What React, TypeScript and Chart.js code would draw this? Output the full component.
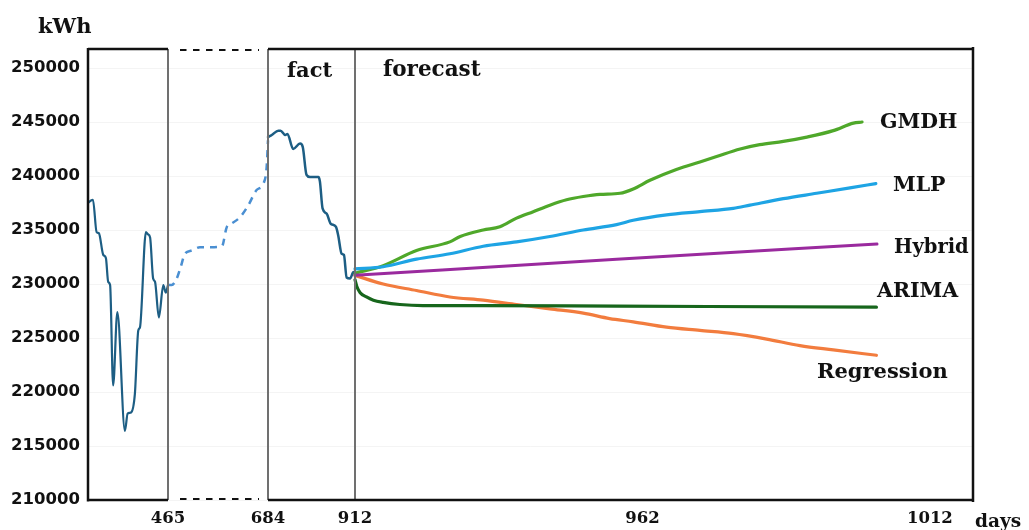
import React, { useEffect, useRef } from "react";
import { Chart, registerables, LinearScale } from "chart.js";

// ---------- data (days, kWh) ----------
const LEFT_DAYS = [255, 261.6, 268, 277.6, 283.6, 295, 302, 308, 313, 321, 332, 352, 359, 368, 378, 387, 391.5, 407, 412.5, 418, 426, 431, 441, 452.7, 459, 465];
const LEFT_KWH = [237500, 237700, 237800, 234800, 234700, 232700, 232400, 230200, 229900, 220600, 227400, 216400, 218000, 218100, 219800, 225700, 226000, 234800, 234600, 234300, 230500, 230200, 226900, 229900, 229200, 229900];

const GAP_DAYS = [465, 473, 484, 493, 502, 517, 535, 557, 583, 594, 604, 623, 641, 659, 674, 681, 684];
const GAP_KWH = [229900, 229900, 230500, 231600, 232800, 233100, 233400, 233400, 233500, 235300, 235600, 236200, 237300, 238700, 239300, 240800, 243300];

const FACT_DAYS = [684, 694, 711, 717, 729, 735, 750, 768, 775, 785, 794, 816, 820, 827, 838, 848, 862, 868, 877, 883, 890, 899, 908, 912];
const FACT_KWH = [243600, 243800, 244200, 244200, 243800, 243900, 242500, 243000, 242700, 240100, 239900, 239900, 239500, 237000, 236500, 235600, 235300, 234500, 232800, 232700, 230600, 230500, 231100, 230900];

const GMDH_DAYS = [912, 916.9, 922.7, 928.5, 930.3, 934.3, 937.2, 940.1, 943.0, 945.9, 948.8, 951.7, 954.6, 958.1, 960.4, 963.3, 967.9, 972.0, 974.9, 979.0, 982.4, 986.5, 990.6, 995.2, 998.7, 1000.2];
const GMDH_KWH = [231000, 231700, 233100, 233900, 234400, 235000, 235300, 236100, 236700, 237300, 237800, 238100, 238300, 238400, 238800, 239600, 240600, 241300, 241800, 242500, 242900, 243200, 243600, 244200, 244900, 245000];

const MLP_DAYS = [912, 916.9, 922.7, 928.5, 934.3, 940.1, 945.9, 951.7, 957.5, 960.4, 966.2, 972.0, 977.8, 980.7, 986.5, 992.3, 998.1, 1002.6];
const MLP_KWH = [231400, 231600, 232300, 232800, 233500, 233900, 234400, 235000, 235500, 235900, 236400, 236700, 237000, 237300, 237900, 238400, 238900, 239300];

const HYBRID_DAYS = [912, 957.5, 1002.8];
const HYBRID_KWH = [230800, 232300, 233700];

const ARIMA_DAYS = [912, 912.3, 912.9, 914.0, 915.2, 916.9, 919.8, 923.8, 934.3, 957.5, 1002.7];
const ARIMA_KWH = [230400, 229800, 229200, 228800, 228500, 228300, 228100, 228000, 228000, 227950, 227850];

const REG_DAYS = [912, 916.9, 922.7, 928.5, 934.3, 940.1, 945.9, 951.7, 956.3, 960.4, 966.2, 972.0, 977.8, 983.6, 989.4, 995.2, 1002.7];
const REG_KWH = [230800, 230000, 229400, 228800, 228500, 228100, 227700, 227300, 226800, 226500, 226000, 225700, 225400, 224900, 224300, 223900, 223400];

const X_TICKS = [465, 684, 912, 962, 1012];
const X_TICK_LABELS = ["465", "684", "912", "962", "1012"];
const Y_TICKS = [210000, 215000, 220000, 225000, 230000, 235000, 240000, 245000, 250000];
const SERIES_NAMES = ["GMDH", "MLP", "Hybrid", "ARIMA", "Regression"];

// ---------- broken (piecewise) day axis ----------
const SEG_DAYS = [255, 465, 684, 912, 1019.5];
const SEG_FRAC = [0, 80 / 885, 180 / 885, 267 / 885, 1];

function warp(d: number): number {
  for (let i = 0; i < SEG_DAYS.length - 1; i++) {
    if (d <= SEG_DAYS[i + 1] || i === SEG_DAYS.length - 2) {
      const t = (d - SEG_DAYS[i]) / (SEG_DAYS[i + 1] - SEG_DAYS[i]);
      return SEG_FRAC[i] + t * (SEG_FRAC[i + 1] - SEG_FRAC[i]);
    }
  }
  return 0;
}
function unwarp(f: number): number {
  for (let i = 0; i < SEG_FRAC.length - 1; i++) {
    if (f <= SEG_FRAC[i + 1] || i === SEG_FRAC.length - 2) {
      const t = (f - SEG_FRAC[i]) / (SEG_FRAC[i + 1] - SEG_FRAC[i]);
      return SEG_DAYS[i] + t * (SEG_DAYS[i + 1] - SEG_DAYS[i]);
    }
  }
  return 0;
}

class BrokenDayScale extends (LinearScale as any) {
  static id = "brokenDays";
  static defaults = {};
  getPixelForValue(v: number) {
    return v === null || v === undefined ? NaN : (this as any).getPixelForDecimal(warp(v));
  }
  getValueForPixel(p: number) {
    return unwarp((this as any).getDecimalForPixel(p));
  }
}

Chart.register(...registerables, BrokenDayScale as any);

const pts = (xs: number[], ys: number[]) => xs.map((x, i) => ({ x, y: ys[i] }));

const SERIF = '"DejaVu Serif", serif';

const framePlugin = {
  id: "frame",
  afterDraw(chart: any) {
    const { ctx, chartArea } = chart;
    const { left, right, top, bottom } = chartArea;
    const xs = chart.scales.x;
    const p465 = xs.getPixelForValue(465);
    const p684 = xs.getPixelForValue(684);
    const p912 = xs.getPixelForValue(912);
    ctx.save();
    // grey section separators
    ctx.strokeStyle = "#707070";
    ctx.lineWidth = 2;
    [p465, p684, p912].forEach((p: number) => {
      ctx.beginPath();
      ctx.moveTo(p, top);
      ctx.lineTo(p, bottom);
      ctx.stroke();
    });
    // black frame
    ctx.strokeStyle = "#111";
    ctx.lineWidth = 2.5;
    ctx.beginPath();
    ctx.moveTo(left, top - 1);
    ctx.lineTo(left, bottom + 1.5);
    ctx.moveTo(right, top - 2);
    ctx.lineTo(right, bottom + 2);
    ctx.moveTo(left, top);
    ctx.lineTo(p465, top);
    ctx.moveTo(p684, top);
    ctx.lineTo(right, top);
    ctx.moveTo(left, bottom);
    ctx.lineTo(p465, bottom);
    ctx.moveTo(p684, bottom);
    ctx.lineTo(right, bottom);
    ctx.stroke();
    // dashed break marks
    ctx.lineWidth = 2;
    ctx.setLineDash([6.5, 6.5]);
    ctx.beginPath();
    ctx.moveTo(p465 + 12, top + 1);
    ctx.lineTo(p684 - 9, top + 1);
    ctx.moveTo(p465 + 12, bottom - 1);
    ctx.lineTo(p684 - 9, bottom - 1);
    ctx.stroke();
    ctx.setLineDash([]);
    // texts
    ctx.fillStyle = "#111";
    ctx.textAlign = "left";
    ctx.textBaseline = "alphabetic";
    const labels: [string, number, number, number][] = [
      ["kWh", 38, 33, 21],
      ["fact", 287, 77, 21],
      ["forecast", 383, 76, 21.5],
      [SERIES_NAMES[0], 880, 128, 20.5],
      [SERIES_NAMES[1], 893, 191, 20.5],
      [SERIES_NAMES[2], 894, 253, 19.5],
      [SERIES_NAMES[3], 877, 297, 20.5],
      [SERIES_NAMES[4], 817, 378, 21],
      ["days", 975, 527, 18.5],
    ];
    labels.forEach(([t, x, y, s]) => {
      ctx.font = `bold ${s}px ${SERIF}`;
      ctx.fillText(t, x, y);
    });
    ctx.restore();
  },
};

export default function App() {
  const ref = useRef<HTMLCanvasElement>(null);
  useEffect(() => {
    if (!ref.current) return;
    const lineCommon = {
      pointRadius: 0,
      fill: false,
      cubicInterpolationMode: "monotone" as const,
      borderCapStyle: "round" as const,
      borderJoinStyle: "round" as const,
    };
    const chart = new Chart(ref.current, {
      type: "line",
      data: {
        datasets: [
          { ...lineCommon, label: SERIES_NAMES[2], data: pts(HYBRID_DAYS, HYBRID_KWH), borderColor: "#9a2a9e", borderWidth: 3 },
          { ...lineCommon, label: SERIES_NAMES[1], data: pts(MLP_DAYS, MLP_KWH), borderColor: "#1ea4e4", borderWidth: 3.2 },
          { ...lineCommon, label: SERIES_NAMES[0], data: pts(GMDH_DAYS, GMDH_KWH), borderColor: "#4fa82a", borderWidth: 3.2 },
          { ...lineCommon, label: SERIES_NAMES[3], data: pts(ARIMA_DAYS, ARIMA_KWH), borderColor: "#17661c", borderWidth: 3.2 },
          { ...lineCommon, label: SERIES_NAMES[4], data: pts(REG_DAYS, REG_KWH), borderColor: "#f27c3e", borderWidth: 3.2 },
          { ...lineCommon, label: "fact", data: pts(FACT_DAYS, FACT_KWH), borderColor: "#1d5e84", borderWidth: 2.5 },
          { ...lineCommon, label: "gap", data: pts(GAP_DAYS, GAP_KWH), borderColor: "#4a8fd2", borderWidth: 2.5, borderDash: [7, 6], borderCapStyle: "butt" as const },
          { ...lineCommon, label: "history", data: pts(LEFT_DAYS, LEFT_KWH), borderColor: "#1d5e84", borderWidth: 2.2 },
        ],
      },
      options: {
        animation: false,
        responsive: true,
        maintainAspectRatio: false,
        layout: { padding: { left: 0, top: 49, right: 56, bottom: 0 } },
        plugins: { legend: { display: false }, tooltip: { enabled: false } },
        scales: {
          x: {
            type: "brokenDays" as any,
            min: 255,
            max: 1019.5,
            afterBuildTicks: (s: any) => {
              s.ticks = X_TICKS.map((v) => ({ value: v }));
            },
            afterFit: (s: any) => {
              s.height = 30;
            },
            grid: { display: false, drawTicks: false },
            border: { display: false },
            ticks: {
              autoSkip: false,
              maxRotation: 0,
              padding: 9,
              color: "#111",
              font: { family: SERIF, weight: "bold", size: 16.5 },
              callback: (_v: any, i: number) => X_TICK_LABELS[i],
            },
          } as any,
          y: {
            type: "linear",
            min: 210000,
            max: 251760,
            afterBuildTicks: (s: any) => {
              s.ticks = Y_TICKS.map((v) => ({ value: v }));
            },
            afterFit: (s: any) => {
              s.width = 88;
            },
            grid: { color: "rgba(0,0,0,0.045)", drawTicks: false },
            border: { display: false },
            ticks: {
              autoSkip: false,
              padding: 8,
              color: "#111",
              font: { family: '"DejaVu Sans", sans-serif', weight: "bold", size: 16.5 },
              callback: (v: any) => String(v),
            },
          } as any,
        },
      },
      plugins: [framePlugin],
    });
    return () => chart.destroy();
  }, []);
  return (
    <div style={{ position: "fixed", left: 0, top: 0, width: 1029, height: 530, background: "#fff" }}>
      <canvas ref={ref} />
    </div>
  );
}
